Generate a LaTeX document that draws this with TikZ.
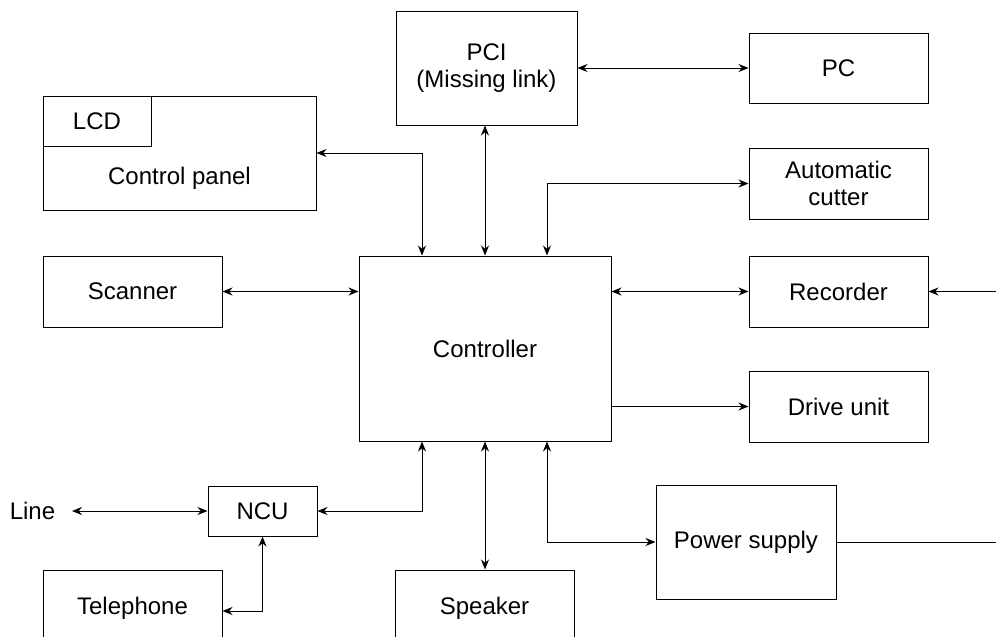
\documentclass[tikz,border=0pt]{standalone}
\usepackage{fontspec}
\setmainfont{Liberation Sans}
\usetikzlibrary{arrows.meta}

\begin{document}
\begin{tikzpicture}[
        x=1pt, y=-1pt,
        line width=1pt,
        both/.style={{Stealth[length=10pt,width=8pt]}-{Stealth[length=10pt,width=8pt]}},
        to/.style={-{Stealth[length=10pt,width=8pt]}}
    ]

    \tikzstyle{every node}=[align=center, inner sep=0pt, font=\fontsize{24}{27}\selectfont]
    \tikzstyle{box}=[draw, rectangle, minimum width=179pt, minimum height=71pt]

    \useasboundingbox (0,0) rectangle (996,637);

    % top row
    \node (pci) [box, minimum width=181pt, minimum height=114pt] at (486.5,68) {PCI\\(Missing link)};
    \node (pc) [box, minimum height=70pt] at (838.5,68) {PC};
    \node (panel) [box, minimum width=273pt, minimum height=114pt] at (179.5,153) {};
    \node (lcd) [box, minimum width=108pt, minimum height=50pt] at (97,121) {LCD};
    \node (paneltxt) at (179.5,178) {Control panel};
    \node (cutter) [box] at (838.5,183.5) {Automatic\\cutter};

    % middle
    \node (ctrl) [box, minimum width=252pt, minimum height=185pt] at (485,348.5) {Controller};
    \node (scanner) [box] at (132.5,291.5) {Scanner};
    \node (recorder) [box] at (838.5,291.5) {Recorder};
    \node (drive) [box] at (838.5,406.5) {Drive unit};

    % bottom
    \node (line) at (32.5,511) {Line};
    \coordinate (lineend) at (72,511);
    \node (ncu) [box, minimum width=109pt, minimum height=50pt] at (262.5,511) {NCU};
    \node (tel) [box, minimum height=76pt] at (132.5,608) {Telephone};
    \node (speaker) [box, minimum height=76pt] at (484.5,608) {Speaker};
    \node (power) [box, minimum width=180pt, minimum height=114pt] at (746,542) {Power supply};
    \coordinate (rin) at (996,291.5);
    \coordinate (pout) at (996,542);

    \draw[both] (pci.east) -- (pc.west);
    \draw[both] (pci.south -| ctrl.north) -- (ctrl.north);
    \draw[both] (panel.east) -| ([xshift=-63pt]ctrl.north);
    \draw[both] ([xshift=62pt]ctrl.north) |- (cutter.west);
    \draw[both] (scanner.east) -- (scanner.east -| ctrl.west);
    \draw[both] (recorder.west -| ctrl.east) -- (recorder.west);
    \draw[to] (drive.west -| ctrl.east) -- (drive.west);
    \draw[to] (rin) -- (recorder.east);

    \draw[both] (lineend) -- (ncu.west);
    \draw[both] (ncu.east) -| ([xshift=-63pt]ctrl.south);
    \draw[both] (ncu.south) |- ([yshift=-3pt]tel.east);
    \draw[both] (speaker.north -| ctrl.south) -- (ctrl.south);
    \draw[both] ([xshift=62pt]ctrl.south) |- (power.west);
    \draw (power.east) -- (pout);

\end{tikzpicture}
\end{document}
